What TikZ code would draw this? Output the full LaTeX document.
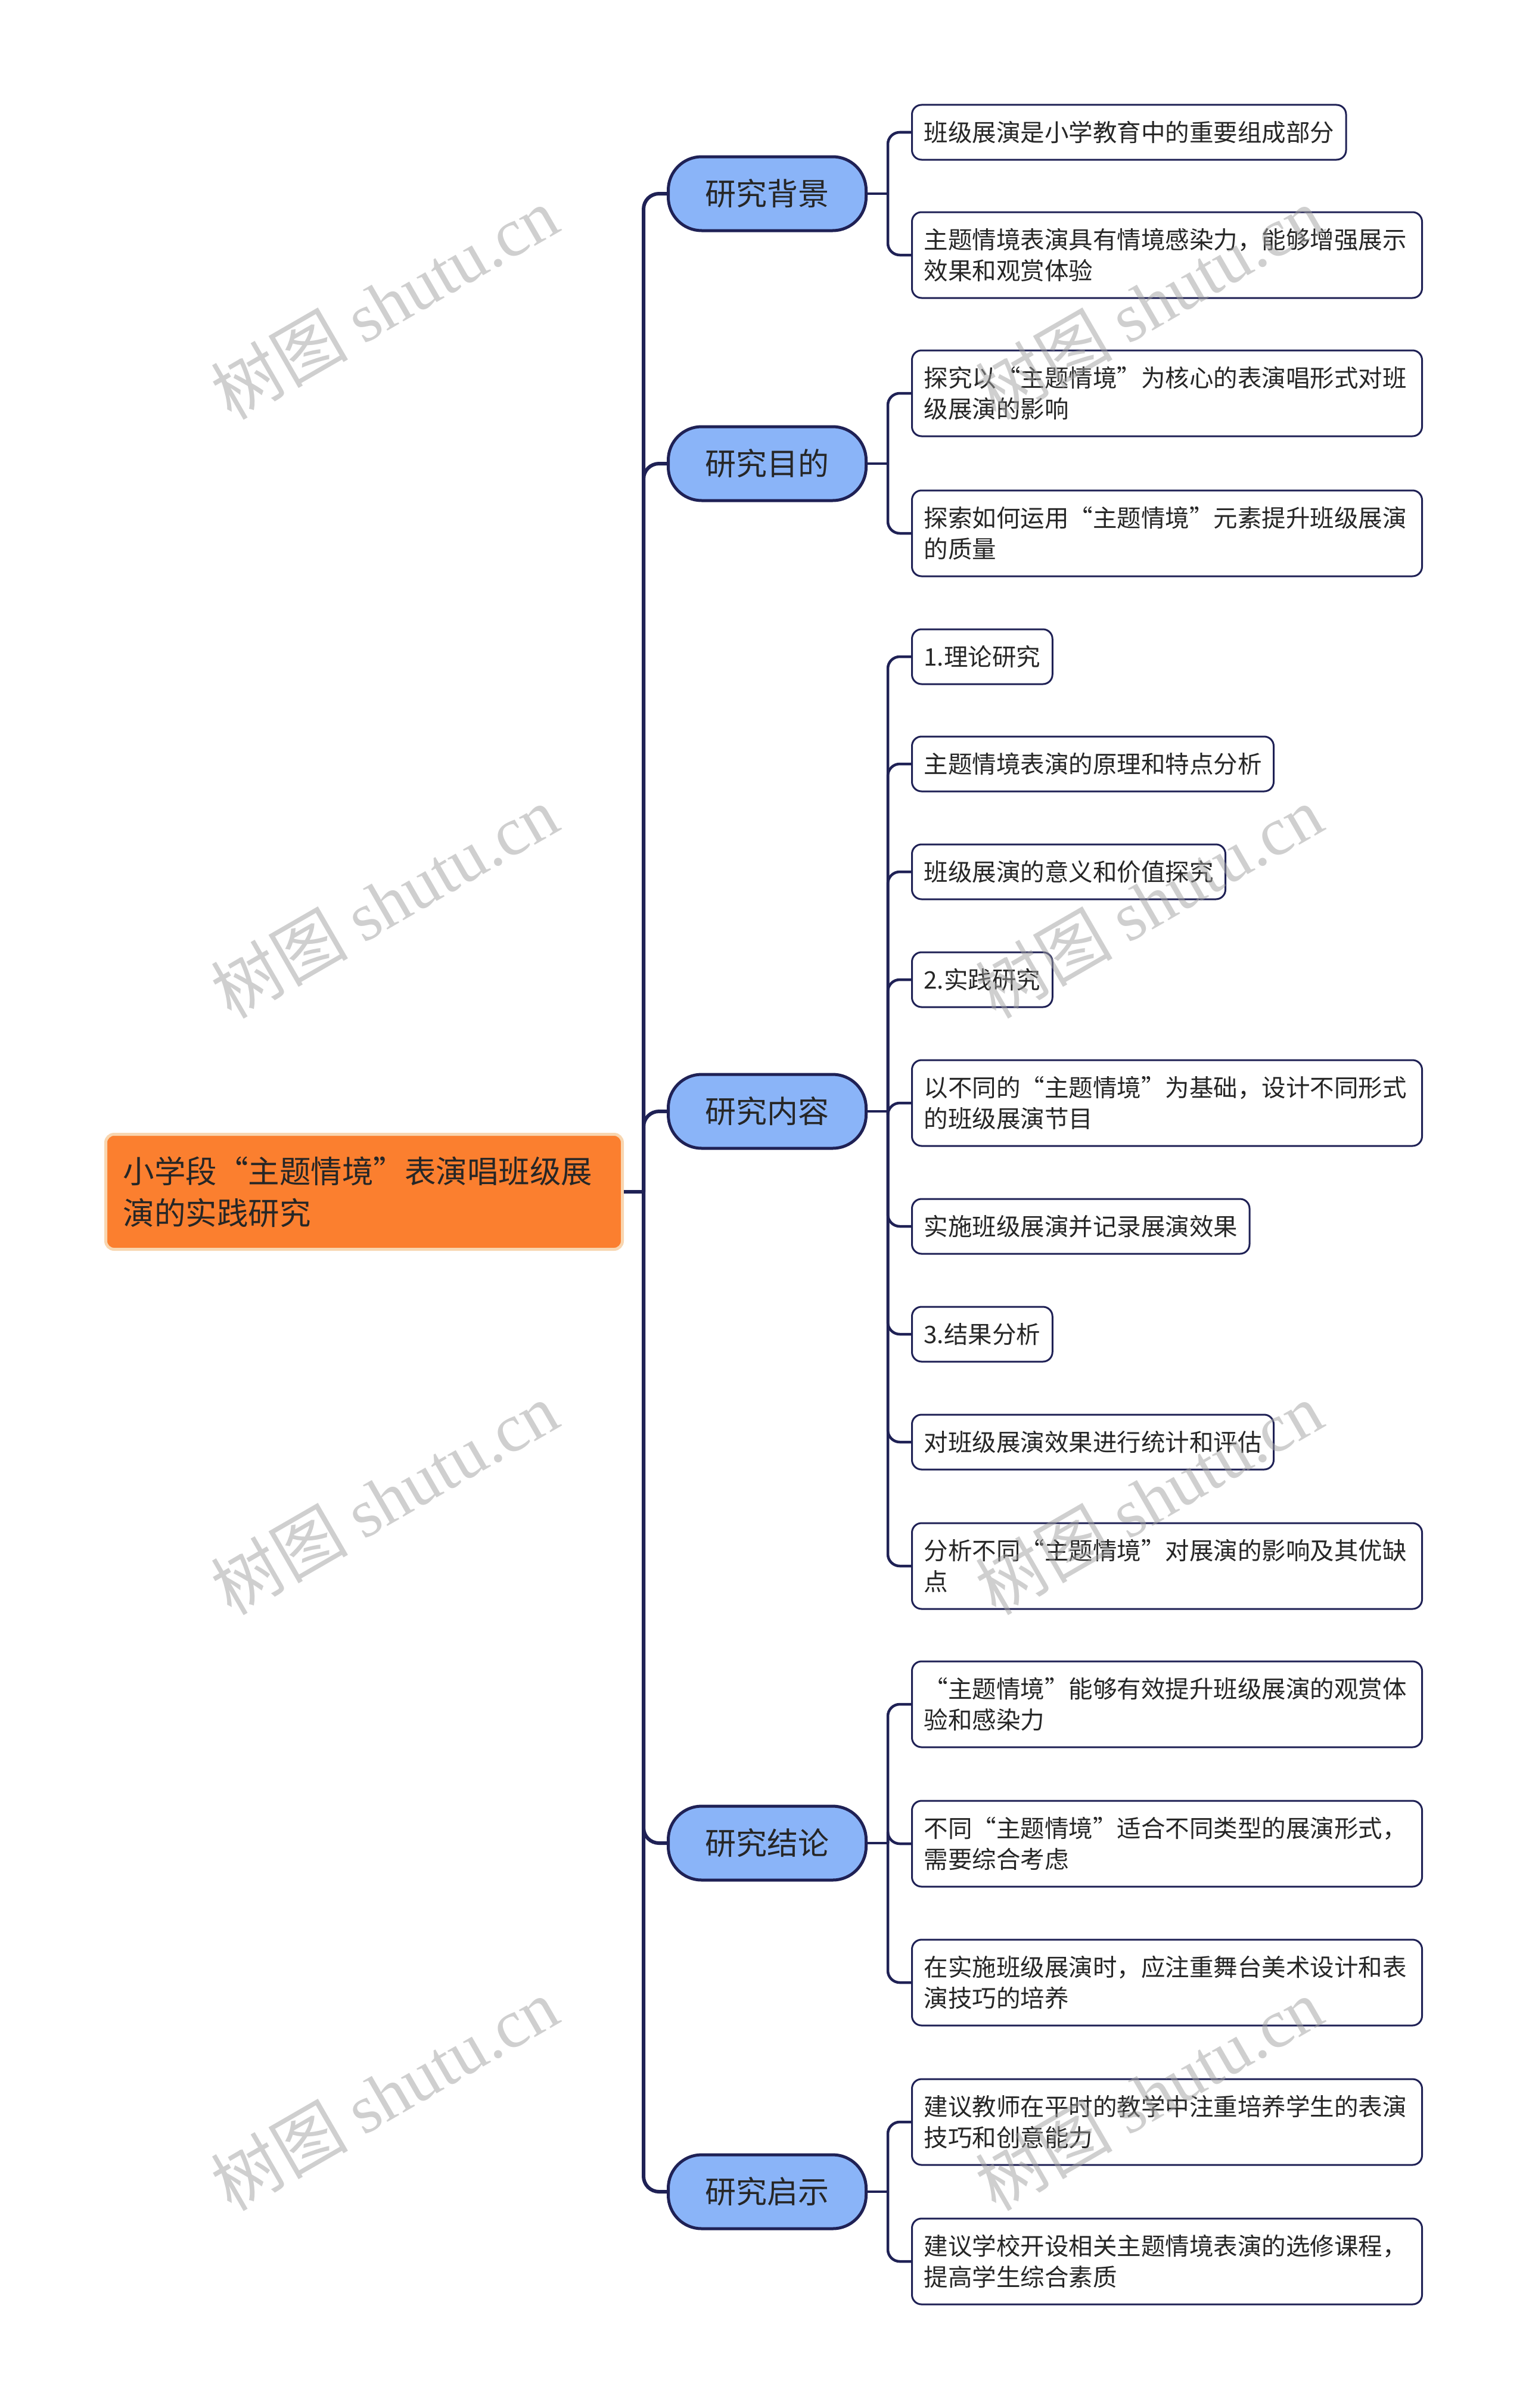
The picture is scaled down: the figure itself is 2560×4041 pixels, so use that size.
\documentclass[tikz,border=0pt]{standalone}
\usepackage{fontspec}
\setmainfont{Noto Sans CJK SC}
\newfontfamily\wmcjk{Noto Sans CJK SC}
\newfontfamily\wmlat{Liberation Serif}
\definecolor{navy}{HTML}{1F2155}
\definecolor{pillblue}{HTML}{8AB4F8}
\definecolor{rootorange}{HTML}{FB7F2F}
\definecolor{rootedge}{HTML}{F8D6B0}
\definecolor{txt}{HTML}{262626}
\tikzset{
 rootbox/.style={draw=rootedge, line width=5pt, fill=rootorange, rounded corners=14pt, minimum width=867pt, minimum height=193pt, text width=809pt, inner xsep=29pt, align=left, font=\fontsize{52.5pt}{70pt}\selectfont, text=txt, anchor=west},
 pill/.style={draw=navy, line width=5pt, fill=pillblue, rounded corners=56pt, minimum width=332pt, minimum height=124pt, font=\fontsize{52pt}{60pt}\selectfont, text=txt, anchor=west, inner sep=0pt},
 leaf/.style={draw=navy, line width=3pt, fill=white, rounded corners=16pt, minimum height=92pt, inner xsep=20pt, inner ysep=0pt, align=left, font=\fontsize{40.5pt}{52pt}\selectfont, text=txt, anchor=west},
 leaftwo/.style={leaf, minimum height=144pt, text width=816pt},
 trunkline/.style={draw=navy, line width=6pt},
 branchline/.style={draw=navy, line width=6pt, rounded corners=26pt},
 twigline/.style={draw=navy, line width=4.5pt, rounded corners=20pt},
 wm/.style={text=black!37, opacity=0.5, rotate=30, inner sep=0pt, font=\fontsize{115pt}{115pt}\selectfont}
}
\begin{document}
\begin{tikzpicture}[x=1pt,y=-1pt]
\fill[white] (0,0) rectangle (2560,4041);
\useasboundingbox (0,0) rectangle (2560,4041);

% root
\node[rootbox] (root) at (175,2000) {小学段“主题情境”表演唱班级展\\演的实践研究};

% main branches
\node[pill] (p1) at (1119,325) {研究背景};
\node[pill] (p2) at (1119,778) {研究目的};
\node[pill] (p3) at (1119,1865) {研究内容};
\node[pill] (p4) at (1119,3093) {研究结论};
\node[pill] (p5) at (1119,3678) {研究启示};

% leaves
\node[leaf] (c1) at (1529,222) {班级展演是小学教育中的重要组成部分};
\node[leaftwo] (c2) at (1529,428) {主题情境表演具有情境感染力，能够增强展示\\效果和观赏体验};
\node[leaftwo] (c3) at (1529,660) {探究以“主题情境”为核心的表演唱形式对班\\级展演的影响};
\node[leaftwo] (c4) at (1529,895) {探索如何运用“主题情境”元素提升班级展演\\的质量};

\node[leaf] (c5) at (1529,1102) {1.理论研究};
\node[leaf] (c6) at (1529,1282) {主题情境表演的原理和特点分析};
\node[leaf] (c7) at (1529,1463) {班级展演的意义和价值探究};
\node[leaf] (c8) at (1529,1644) {2.实践研究};
\node[leaftwo] (c9) at (1529,1851) {以不同的“主题情境”为基础，设计不同形式\\的班级展演节目};
\node[leaf] (c10) at (1529,2058) {实施班级展演并记录展演效果};
\node[leaf] (c11) at (1529,2239) {3.结果分析};
\node[leaf] (c12) at (1529,2420) {对班级展演效果进行统计和评估};
\node[leaftwo] (c13) at (1529,2628) {分析不同“主题情境”对展演的影响及其优缺\\点};

\node[leaftwo] (c14) at (1529,2860) {“主题情境”能够有效提升班级展演的观赏体\\验和感染力};
\node[leaftwo] (c15) at (1529,3094) {不同“主题情境”适合不同类型的展演形式，\\需要综合考虑};
\node[leaftwo] (c16) at (1529,3327) {在实施班级展演时，应注重舞台美术设计和表\\演技巧的培养};

\node[leaftwo] (c17) at (1529,3561) {建议教师在平时的教学中注重培养学生的表演\\技巧和创意能力};
\node[leaftwo] (c18) at (1529,3795) {建议学校开设相关主题情境表演的选修课程，\\提高学生综合素质};

% trunk
\coordinate (tj) at (1080,2000);
\draw[trunkline] (root.east) -- (tj);
\foreach \p in {p1,p2,p3,p4,p5} {\draw[branchline] (tj) |- (\p.west);}

% twigs
\coordinate (j1) at (1490,325);
\coordinate (j2) at (1490,778);
\coordinate (j3) at (1490,1865);
\coordinate (j4) at (1490,3093);
\coordinate (j5) at (1490,3678);
\draw[twigline] (p1.east) -- (j1);
\draw[twigline] (p2.east) -- (j2);
\draw[twigline] (p3.east) -- (j3);
\draw[twigline] (p4.east) -- (j4);
\draw[twigline] (p5.east) -- (j5);
\foreach \c in {c1,c2} {\draw[twigline] (j1) |- (\c.west);}
\foreach \c in {c3,c4} {\draw[twigline] (j2) |- (\c.west);}
\foreach \c in {c5,c6,c7,c8,c9,c10,c11,c12,c13} {\draw[twigline] (j3) |- (\c.west);}
\foreach \c in {c14,c15,c16} {\draw[twigline] (j4) |- (\c.west);}
\foreach \c in {c17,c18} {\draw[twigline] (j5) |- (\c.west);}

% watermarks
\node[wm] (w1) at (645,508) {\wmcjk 树图 \wmlat shutu.cn};
\node[wm] (w2) at (645,1513) {\wmcjk 树图 \wmlat shutu.cn};
\node[wm] (w3) at (645,2514) {\wmcjk 树图 \wmlat shutu.cn};
\node[wm] (w4) at (645,3514) {\wmcjk 树图 \wmlat shutu.cn};
\node[wm] (w5) at (1928,508) {\wmcjk 树图 \wmlat shutu.cn};
\node[wm] (w6) at (1928,1513) {\wmcjk 树图 \wmlat shutu.cn};
\node[wm] (w7) at (1928,2514) {\wmcjk 树图 \wmlat shutu.cn};
\node[wm] (w8) at (1928,3514) {\wmcjk 树图 \wmlat shutu.cn};
\end{tikzpicture}
\end{document}
